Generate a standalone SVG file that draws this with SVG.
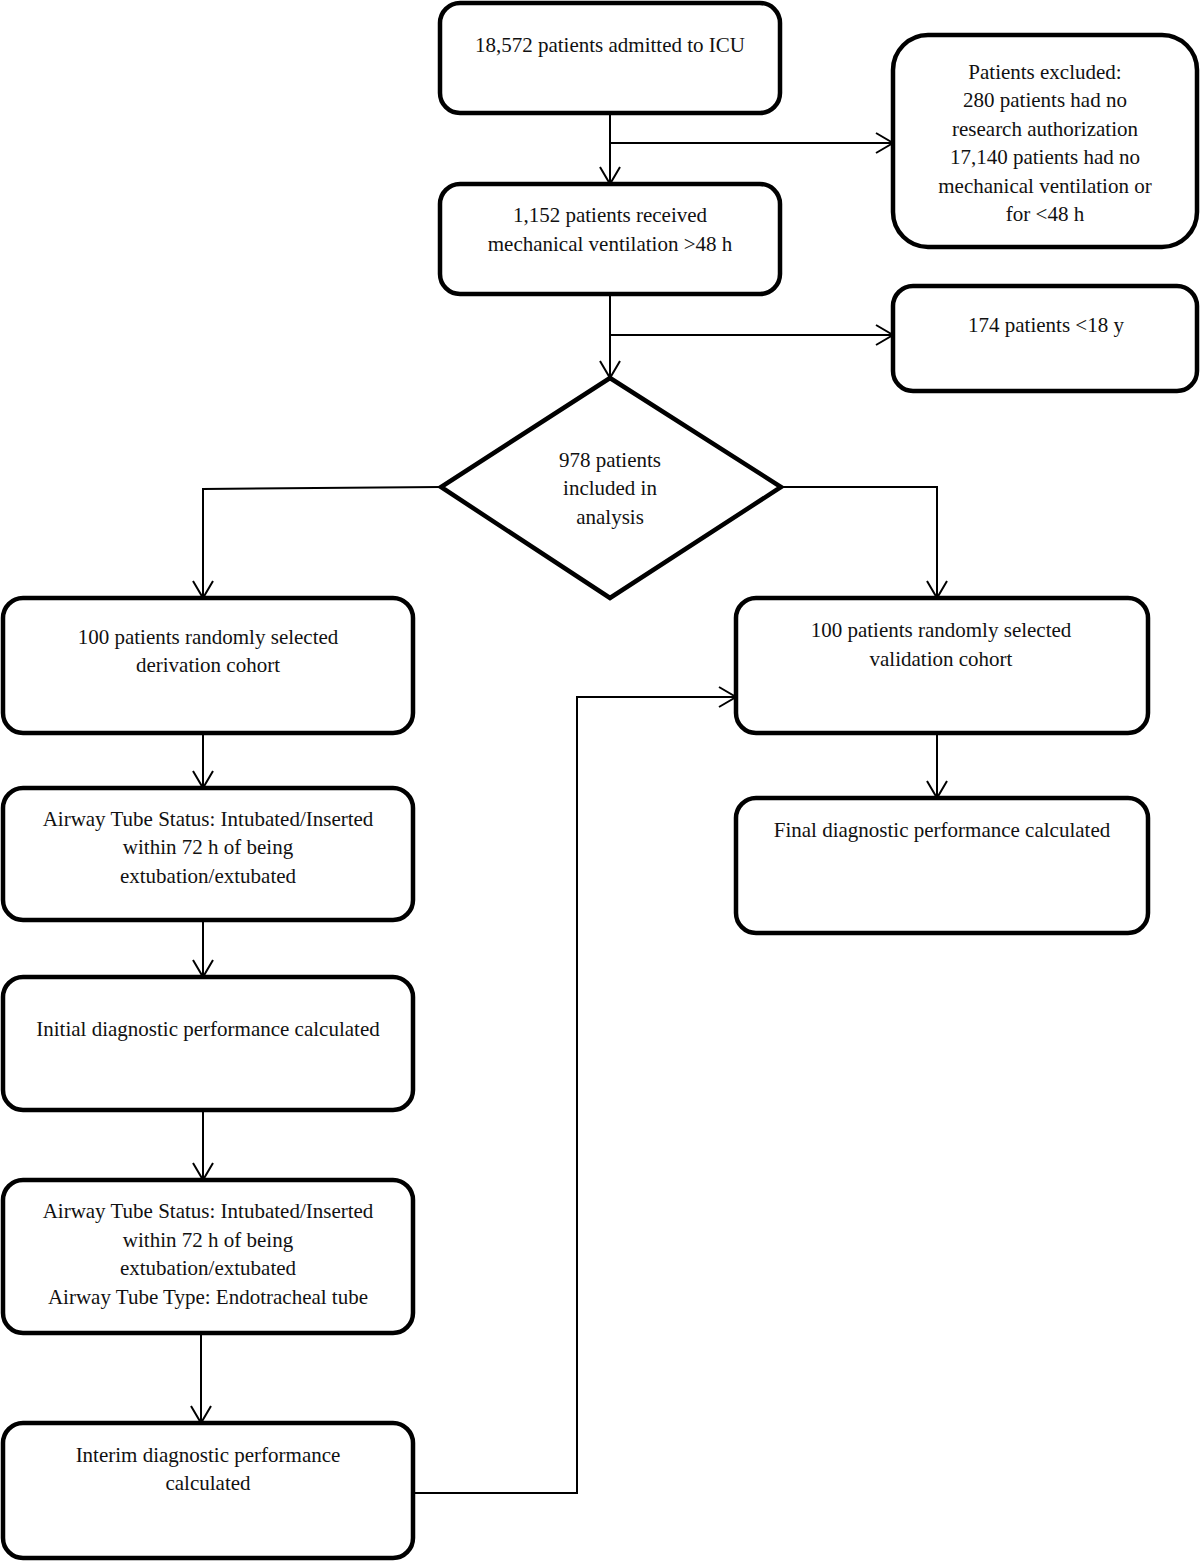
<svg xmlns="http://www.w3.org/2000/svg" width="1200" height="1561" viewBox="0 0 1200 1561">
<defs>
<style>
.box{fill:#fff;stroke:#000;stroke-width:4.5}
.t{font-family:"Liberation Serif","DejaVu Serif","Times New Roman",Times,serif;font-size:21px;fill:#111;text-anchor:middle}
.c{fill:none;stroke:#000;stroke-width:2}
</style>
<marker id="ah" viewBox="-1 -13 20 26" refX="17" refY="0" markerWidth="20" markerHeight="26" markerUnits="userSpaceOnUse" orient="auto">
<path d="M0,-10 L17,0 L0,10" fill="none" stroke="#000" stroke-width="2"/>
</marker>
</defs>
<rect width="1200" height="1561" fill="#fff"/>
<g id="connectors">
<path class="c" d="M610,113 V184" marker-end="url(#ah)"/>
<path class="c" d="M610,143 H893" marker-end="url(#ah)"/>
<path class="c" d="M610,294 V378" marker-end="url(#ah)"/>
<path class="c" d="M610,335 H893" marker-end="url(#ah)"/>
<path class="c" d="M441,487 L203,489 V598" marker-end="url(#ah)"/>
<path class="c" d="M781,487 H937 V598" marker-end="url(#ah)"/>
<path class="c" d="M203,733 V788" marker-end="url(#ah)"/>
<path class="c" d="M203,920 V977" marker-end="url(#ah)"/>
<path class="c" d="M203,1110 V1180" marker-end="url(#ah)"/>
<path class="c" d="M201,1333 V1423" marker-end="url(#ah)"/>
<path class="c" d="M413,1493 H577 V697 H736" marker-end="url(#ah)"/>
<path class="c" d="M937,733 V798" marker-end="url(#ah)"/>
</g>
<g id="n1"><rect class="box" x="440" y="3" width="340" height="110" rx="20"/><text class="t" x="610" y="52">18,572 patients admitted to ICU</text></g>
<g id="n2"><rect class="box" x="440" y="184" width="340" height="110" rx="20"/><text class="t" x="610" y="222">1,152 patients received</text><text class="t" x="610" y="251">mechanical ventilation &gt;48 h</text></g>
<g id="excl1"><rect class="box" x="893" y="35" width="304" height="212" rx="35"/>
<text class="t" x="1045" y="79">Patients excluded:</text>
<text class="t" x="1045" y="107">280 patients had no</text>
<text class="t" x="1045" y="136">research authorization</text>
<text class="t" x="1045" y="164">17,140 patients had no</text>
<text class="t" x="1045" y="193">mechanical ventilation or</text>
<text class="t" x="1045" y="221">for &lt;48 h</text></g>
<g id="excl2"><rect class="box" x="893" y="286" width="304" height="105" rx="20"/><text class="t" x="1046" y="332">174 patients &lt;18 y</text></g>
<g id="diamond"><polygon class="box" points="610,378 781,487 610,598 441,487"/>
<text class="t" x="610" y="467">978 patients</text><text class="t" x="610" y="495">included in</text><text class="t" x="610" y="524">analysis</text></g>
<g id="derivation"><rect class="box" x="3" y="598" width="410" height="135" rx="20"/><text class="t" x="208" y="644">100 patients randomly selected</text><text class="t" x="208" y="672">derivation cohort</text></g>
<g id="validation"><rect class="box" x="736" y="598" width="412" height="135" rx="20"/><text class="t" x="941" y="637">100 patients randomly selected</text><text class="t" x="941" y="666">validation cohort</text></g>
<g id="final"><rect class="box" x="736" y="798" width="412" height="135" rx="20"/><text class="t" x="942" y="837">Final diagnostic performance calculated</text></g>
<g id="airway1"><rect class="box" x="3" y="788" width="410" height="132" rx="20"/><text class="t" x="208" y="826">Airway Tube Status: Intubated/Inserted</text><text class="t" x="208" y="854">within 72 h of being</text><text class="t" x="208" y="883">extubation/extubated</text></g>
<g id="initial"><rect class="box" x="3" y="977" width="410" height="133" rx="20"/><text class="t" x="208" y="1036">Initial diagnostic performance calculated</text></g>
<g id="airway2"><rect class="box" x="3" y="1180" width="410" height="153" rx="20"/><text class="t" x="208" y="1218">Airway Tube Status: Intubated/Inserted</text><text class="t" x="208" y="1247">within 72 h of being</text><text class="t" x="208" y="1275">extubation/extubated</text><text class="t" x="208" y="1304">Airway Tube Type: Endotracheal tube</text></g>
<g id="interim"><rect class="box" x="3" y="1423" width="410" height="135" rx="20"/><text class="t" x="208" y="1462">Interim diagnostic performance</text><text class="t" x="208" y="1490">calculated</text></g>
</svg>
